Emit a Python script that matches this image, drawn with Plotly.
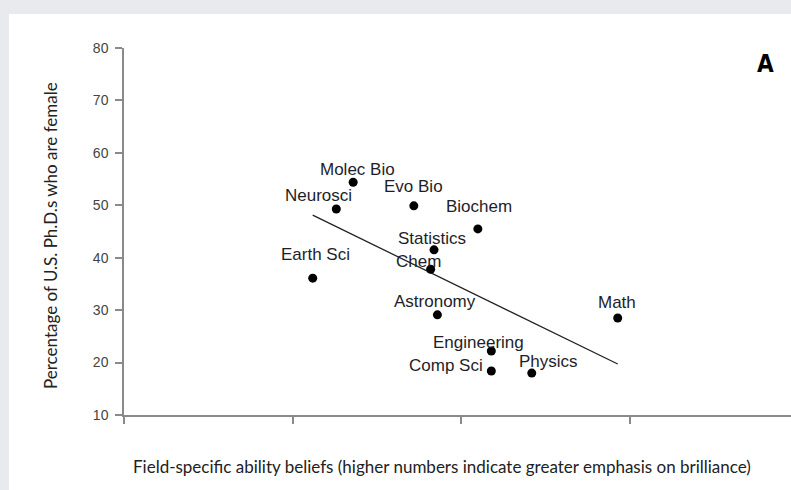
import numpy as np
import plotly.graph_objects as go

# fields and values (x axis has no numeric labels -> arbitrary units)
fields = ["Molec Bio", "Neurosci", "Evo Bio", "Biochem", "Statistics", "Chem",
          "Earth Sci", "Astronomy", "Math", "Engineering", "Comp Sci", "Physics"]
ability_beliefs = [1.36, 1.26, 1.72, 2.10, 1.84, 1.82, 1.12, 1.86, 2.93, 2.18, 2.18, 2.42]
pct_female = [54.4, 49.3, 49.9, 45.5, 41.5, 37.8, 36.1, 29.1, 28.5, 22.2, 18.4, 18.0]

y_ticks = [10, 20, 30, 40, 50, 60, 70, 80]
x_ticks = [0, 1, 2, 3]

# label placement (pixel shifts from each dot)
label_shift = {
    "Molec Bio": (4, 13), "Neurosci": (-18, 13), "Evo Bio": (0, 19),
    "Biochem": (1, 22), "Statistics": (-2, 11), "Chem": (-12, 8),
    "Earth Sci": (3, 24), "Astronomy": (-2, 13), "Math": (-1, 16),
    "Engineering": (-13, 9), "Comp Sci": (-45, 5), "Physics": (17, 12),
}

# least-squares fit line across the data range
slope, icpt = np.polyfit(ability_beliefs, pct_female, 1)
fit_x = np.array([min(ability_beliefs), max(ability_beliefs)])
fit_y = slope * fit_x + icpt

fig = go.Figure()
fig.add_trace(go.Scatter(x=fit_x, y=fit_y, mode="lines",
                         line=dict(color="#222", width=1.3), hoverinfo="skip"))
fig.add_trace(go.Scatter(x=ability_beliefs, y=pct_female, mode="markers", text=fields,
                         marker=dict(color="black", size=9)))

for f, xv, yv in zip(fields, ability_beliefs, pct_female):
    dx, dy = label_shift[f]
    fig.add_annotation(x=xv, y=yv, text=f, showarrow=False, xshift=dx, yshift=dy,
                       font=dict(family="Liberation Sans", size=17, color="#1e1e28"))

L, R, T, B = 124, 0, 48, 75
W, H = 791, 490
pw, ph = W - L - R, H - T - B

# white card on grey page
fig.add_shape(type="rect", xref="paper", yref="paper", layer="below",
              x0=(9 - L) / pw, x1=(W + 5 - L) / pw,
              y0=-(H + 5 - (H - B)) / ph, y1=((H - B) - 14) / ph,
              fillcolor="white", line=dict(width=0))

fig.add_annotation(xref="paper", yref="paper", x=(441.5 - L) / pw, y=((H - B) - 466) / ph,
                   text="Field-specific ability beliefs (higher numbers indicate greater emphasis on brilliance)",
                   showarrow=False, xanchor="center", yanchor="middle",
                   font=dict(family="Lato", size=17, color="#222"))
fig.add_annotation(xref="paper", yref="paper", x=(50 - L) / pw, y=((H - B) - 236) / ph,
                   text="Percentage of U.S. Ph.D.s who are female", textangle=-90,
                   showarrow=False, xanchor="center", yanchor="middle",
                   font=dict(family="Lato", size=17, color="#222"))
fig.add_annotation(xref="paper", yref="paper", x=(765.5 - L) / pw, y=((H - B) - 64) / ph,
                   text="<b>A</b>", showarrow=False, xanchor="center", yanchor="middle",
                   font=dict(family="DejaVu Sans Condensed", size=24, color="black"))

fig.update_layout(
    width=W, height=H,
    margin=dict(l=L, r=R, t=T, b=B, pad=0),
    paper_bgcolor="#e9eaee",
    plot_bgcolor="rgba(0,0,0,0)",
    showlegend=False,
    xaxis=dict(range=[0, pw / 168.5], tickvals=x_ticks, showticklabels=False,
               showline=True, linecolor="#8a8a8a", linewidth=1.5,
               ticks="outside", ticklen=7, tickcolor="#8a8a8a", tickwidth=1.5,
               showgrid=False, zeroline=False),
    yaxis=dict(range=[10, 80], tickvals=y_ticks, showline=True, linecolor="#8a8a8a",
               linewidth=1.5, ticks="outside", ticklen=7, tickcolor="#8a8a8a", tickwidth=1.5,
               showgrid=False, zeroline=False, ticklabelstandoff=4,
               tickfont=dict(family="Liberation Sans", size=14, color="#444")),
)

# drop the default body margin / scrollbars so the figure sits flush in the window
fig.write_html("out.html", config={"displayModeBar": False},
               post_script="document.body.style.margin='0';document.body.style.overflow='hidden';")
